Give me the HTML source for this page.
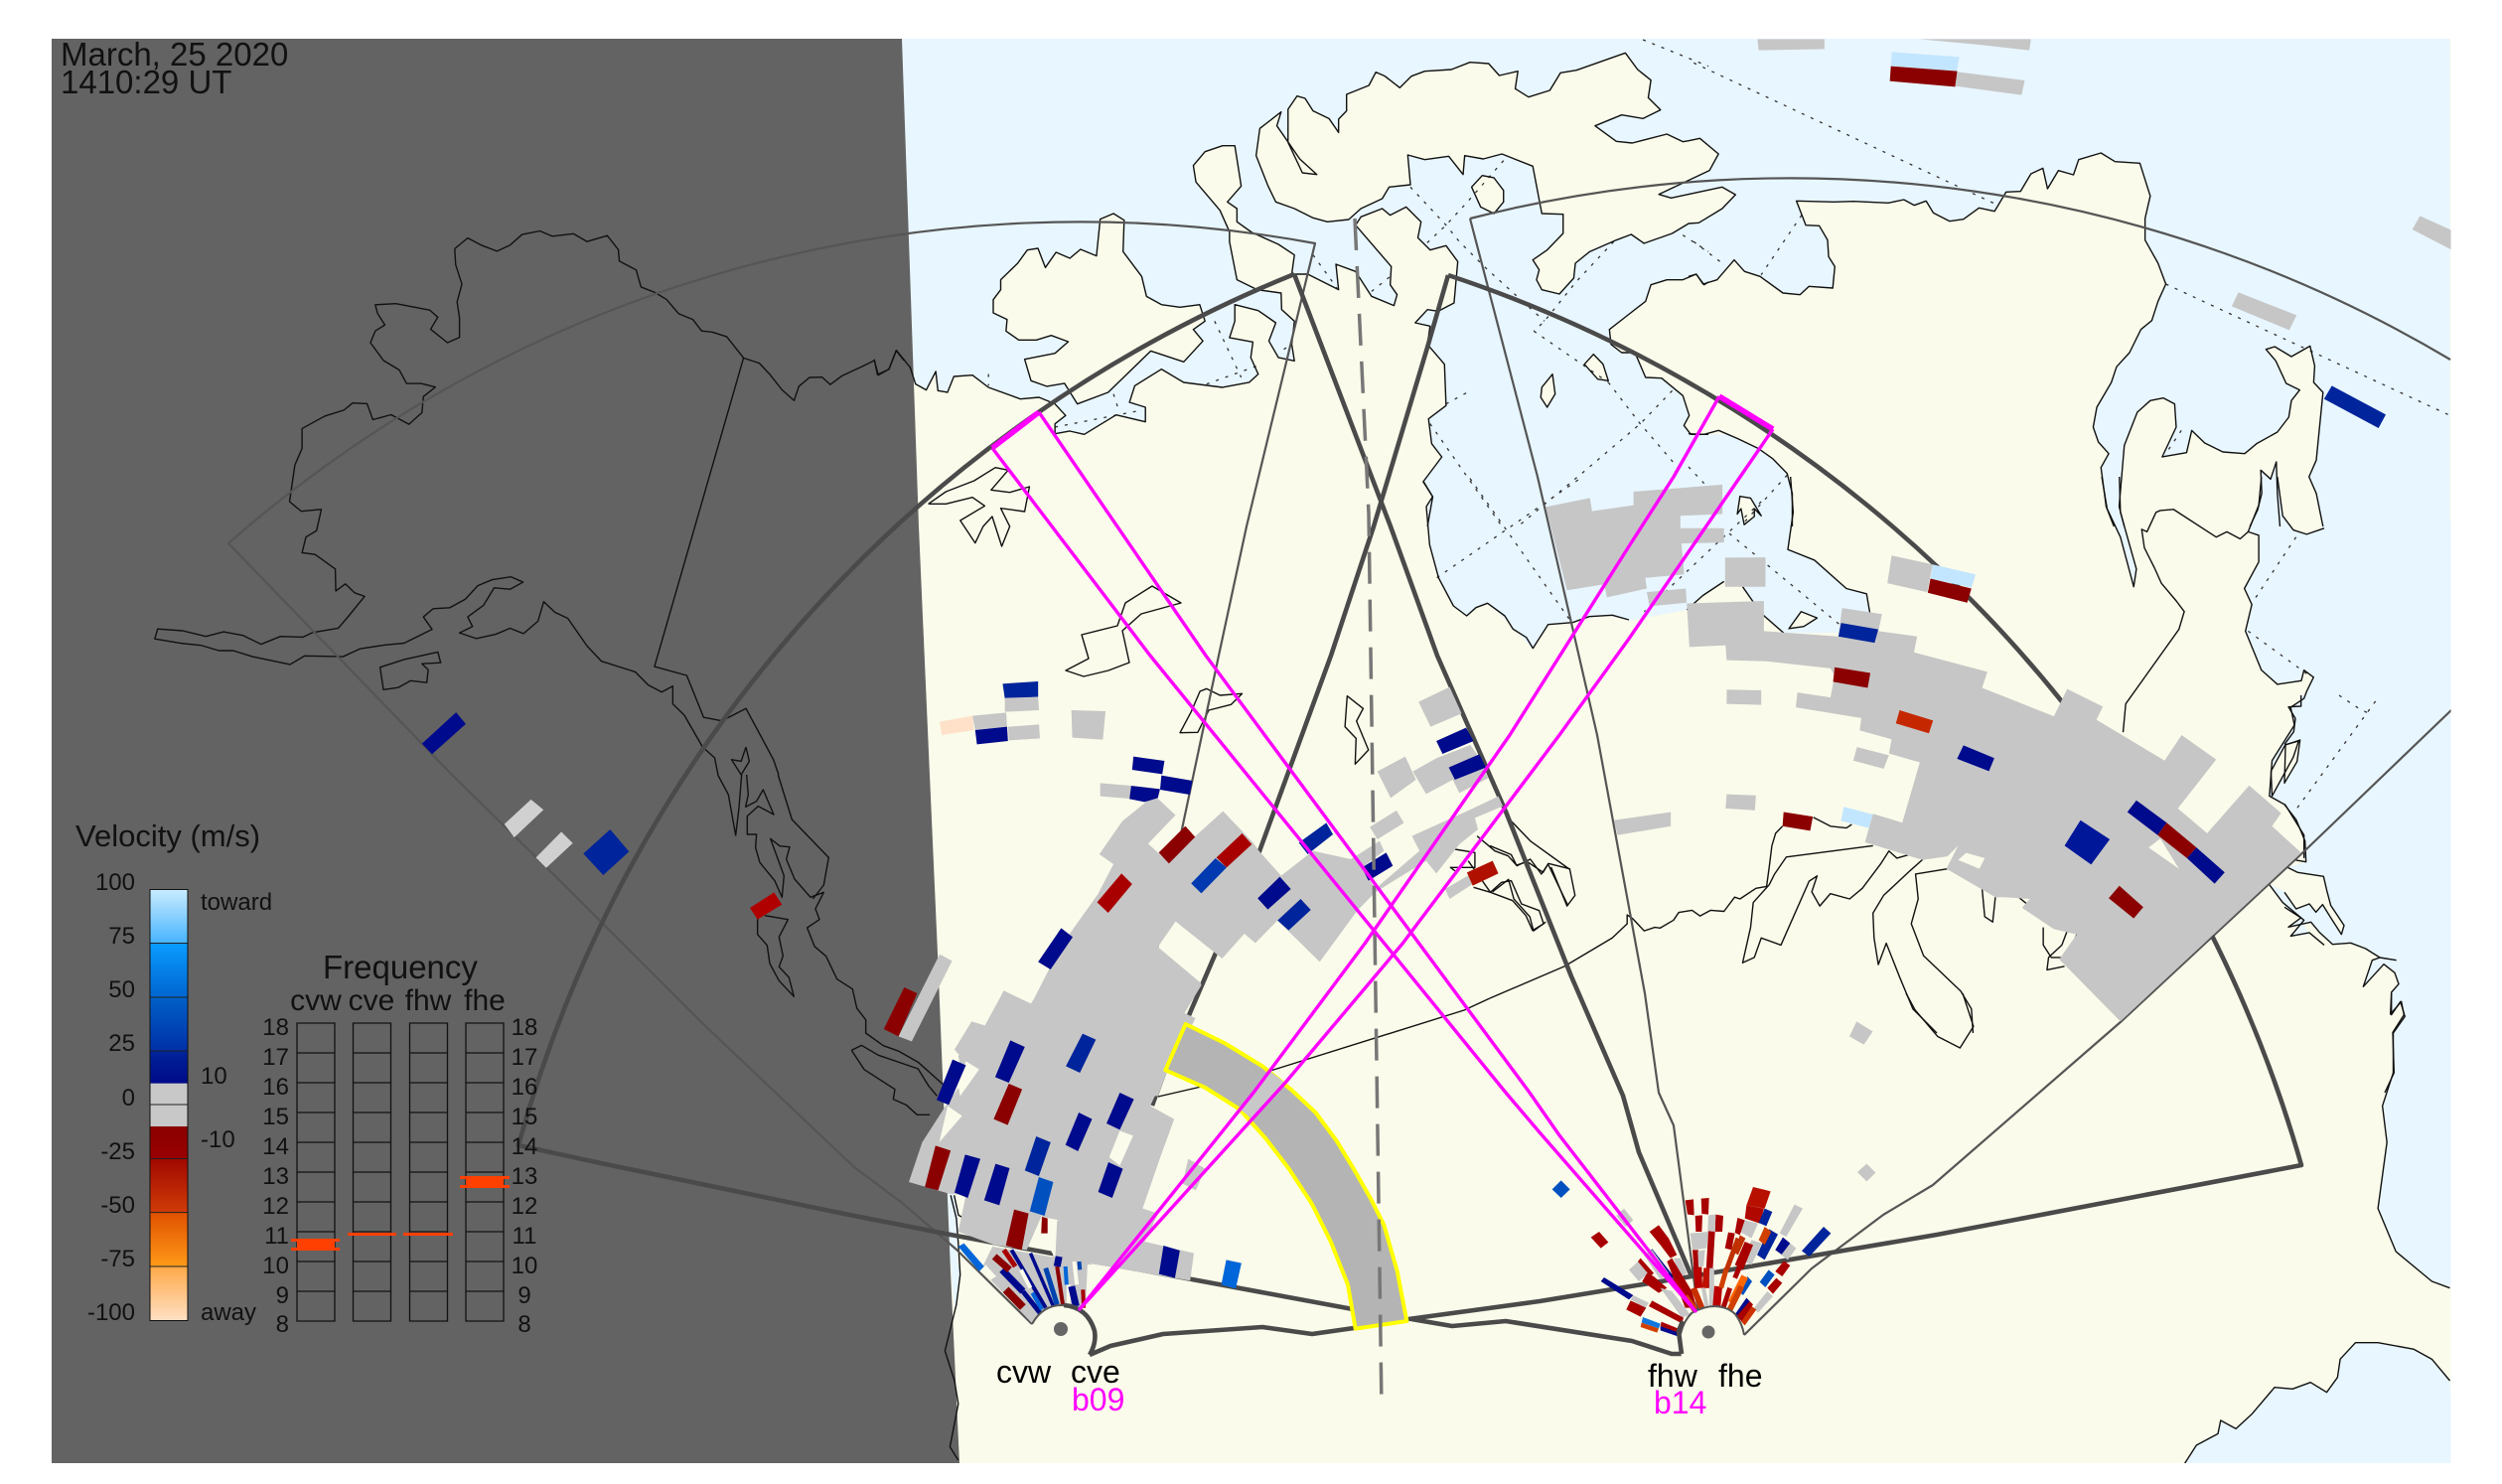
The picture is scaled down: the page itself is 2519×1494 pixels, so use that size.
<!DOCTYPE html>
<html><head><meta charset="utf-8"><style>
html,body{margin:0;padding:0;background:#fff}
svg{display:block}
polyline,polygon,path,line,rect{vector-effect:non-scaling-stroke}
text{font-family:"Liberation Sans",sans-serif;fill:#111}
.o{fill:#e8f6ff;stroke:none}.l{fill:#fafbea;stroke:none}
.c polyline,.c polygon{fill:none;stroke:#111;stroke-width:1.4;stroke-linejoin:round}
.d line,.d polyline{fill:none;stroke:#333;stroke-width:1.3;stroke-dasharray:3 7}
.t{fill:none;stroke:#555;stroke-width:2.2;stroke-linejoin:round}
.k{fill:none;stroke:#4a4a4a;stroke-width:4.6;stroke-linejoin:round}
.m{fill:none;stroke:#f0f;stroke-width:3.4;stroke-linejoin:round}
.G{fill:#c6c6c6}.N{fill:#000a8c}.B{fill:#00249b}.R{fill:#8b0000}.A{fill:#a80000}.U{fill:#0050c0}.S{fill:#c2e6ff}.C{fill:#0066d9}.H{fill:#c52800}.W{fill:#fafbea}.P{fill:#ffe0c8}.F{fill:#ff6600}
.f line{fill:none}
</style></head><body>
<svg xmlns="http://www.w3.org/2000/svg" width="2519" height="1494" viewBox="0 0 2519 1494">
<defs>
<clipPath id="fr"><rect x="52" y="39" width="2415.500" height="1434"/></clipPath>
<linearGradient id="g1" x1="0" y1="0" x2="0" y2="1"><stop offset="0" stop-color="#c8ecff"/><stop offset="1" stop-color="#48b4ff"/></linearGradient>
<linearGradient id="g2" x1="0" y1="0" x2="0" y2="1"><stop offset="0" stop-color="#0a9cff"/><stop offset="1" stop-color="#0066d0"/></linearGradient>
<linearGradient id="g3" x1="0" y1="0" x2="0" y2="1"><stop offset="0" stop-color="#0060c8"/><stop offset="1" stop-color="#0030a8"/></linearGradient>
<linearGradient id="g4" x1="0" y1="0" x2="0" y2="1"><stop offset="0" stop-color="#00249b"/><stop offset="1" stop-color="#000a88"/></linearGradient>
<linearGradient id="g5" x1="0" y1="0" x2="0" y2="1"><stop offset="0" stop-color="#8b0000"/><stop offset="1" stop-color="#990000"/></linearGradient>
<linearGradient id="g6" x1="0" y1="0" x2="0" y2="1"><stop offset="0" stop-color="#a00800"/><stop offset="1" stop-color="#d03c08"/></linearGradient>
<linearGradient id="g7" x1="0" y1="0" x2="0" y2="1"><stop offset="0" stop-color="#e05000"/><stop offset="1" stop-color="#ff9a18"/></linearGradient>
<linearGradient id="g8" x1="0" y1="0" x2="0" y2="1"><stop offset="0" stop-color="#ffa848"/><stop offset="1" stop-color="#ffe0c4"/></linearGradient>
</defs>
<rect width="2519" height="1494" fill="#fff"/>
<g clip-path="url(#fr)">
<rect x="52" y="39" width="2416" height="1434" fill="#fafbea"/>

<!-- OCEAN FILLS -->
<g transform="translate(880 30) scale(.53571 .33333)">
<polygon class="o" points="0,0 1568,0 1568,1500 1040,1500 1050,1410 1032,1365 1067,1290 1048,1250 1042,1175 1075,1135 1072,1010 1040,950 1045,895 1017,885 1040,845 1060,850 1090,825 1097,700 1075,652 1045,665 1022,628 1028,580 1000,535 970,560 955,540 915,565 905,590 972,715 970,770 983,800 977,833 935,805 905,730 868,708 873,785 815,738 785,738 790,680 760,648 710,612 682,580 682,540 664,520 690,472 678,350 655,350 622,368 600,410 605,460 650,545 668,610 668,640 682,755 720,785 765,795 766,845 790,880 785,950 790,1000 760,990 742,940 755,885 722,848 678,830 678,880 668,930 712,943 708,990 722,1040 705,1065 655,1080 582,1065 540,1025 490,1075 480,1125 510,1140 510,1184 455,1163 395,1222 368,1212 340,1220 340,1190 360,1165 340,1130 310,1110 275,1115 215,1080 185,1043 150,1047 138,1095 120,1090 116,1032 98,1088 78,1070 68,1020 42,968 28,1025 8,1043 0,995"/>
</g>
<g transform="translate(1700 30) scale(.52232 .33333)"><rect class="o" x="0" y="0" width="1468" height="1500"/></g>
<g transform="translate(1380 480) scale(.33333)">
<polygon class="o" points="160,0 160,15 187,60 168,90 178,205 205,305 250,390 290,420 318,395 353,382 405,420 430,460 470,485 490,518 536,446 610,440 660,422 730,418 780,432 780,0"/>
</g>
<g transform="translate(1500 480) scale(.53571 .35714)">
<polygon class="o" points="0,0 565,0 570,100 560,205 610,235 670,315 708,330 716,400 655,440 552,440 510,385 475,310 440,295 400,335 370,375 265,405 220,390 150,410 108,413 80,485 35,410 0,360"/>
</g>
<polygon class="o" points="2338,525 2468,525 2468,705 2338,705"/>
<g transform="translate(2300 700) scale(.33333)">
<polygon class="o" points="50,0 505,0 505,1200 303,1200 331,1140 327,1018 361,965 353,925 320,963 323,897 345,872 333,838 300,812 238,880 265,800 288,792 245,765 200,748 145,752 105,715 80,685 12,700 50,672 0,640 0,595 35,645 75,630 95,655 115,632 140,672 172,722 180,695 140,635 128,590 118,547 40,535 10,520 65,503 62,440 35,375 0,330 0,148 28,110 33,70 12,35 50,33"/>
</g>
<g transform="translate(1100 1000) scale(.90497 .33333)">
<polygon class="o" points="1215,1425 1228,1365 1252,1330 1255,1290 1272,1315 1290,1270 1315,1190 1335,1195 1355,1175 1373,1205 1385,1160 1388,1105 1405,1055 1430,1055 1470,1075 1490,1105 1510,1170 1515,1425"/>
<polygon class="o" points="1445,0 1445,65 1455,25 1460,70 1447,120 1447,240 1435,340 1440,450 1430,650 1450,780 1490,870 1515,890 1515,0"/>
</g>

<!-- LAND ON OCEAN -->
<g transform="translate(880 30) scale(.53571 .33333)">
<polygon class="l" points="1460,770 1490,755 1520,755 1545,738 1560,770 1600,762 1600,1222 1535,1222 1522,1195 1532,1165 1520,1105 1480,1052 1450,1050 1430,975 1405,975 1385,950 1382,905 1410,870 1450,820"/>
<polygon class="l" points="283,995 295,1060 325,1077 358,1068 382,1130 440,1095 520,970 582,1003 618,940 600,905 622,880 612,830 575,838 540,830 512,805 503,745 468,670 470,575 450,555 425,572 418,683 388,663 368,690 342,672 322,718 308,660 288,665 270,705 238,755 238,785 224,815 224,855 250,875 248,910 272,937 305,937 333,923 365,942 340,977"/>
<polygon class="l" points="765,248 725,298 718,380 740,470 755,520 790,540 825,568 852,580 892,573 915,540 955,510 968,475 1008,468 1003,378 1035,392 1080,382 1107,437 1110,380 1145,390 1180,375 1238,412 1255,555 1295,557 1295,615 1265,665 1238,695 1250,725 1245,755 1255,785 1288,798 1315,750 1318,705 1345,670 1395,635 1423,618 1447,645 1500,615 1531,585 1550,583 1594,540 1619,498 1594,475 1498,508 1475,497 1570,425 1587,375 1552,328 1531,335 1520,338 1490,315 1425,342 1395,337 1355,290 1405,257 1445,268 1478,242 1455,205 1460,152 1435,120 1412,70 1320,122 1290,130 1270,183 1230,203 1205,178 1210,125 1175,138 1155,102 1120,98 1085,120 1035,125 1010,140 988,175 960,140 943,128 930,168 888,195 888,245 873,270 873,310 855,268 825,245 810,207 795,200 778,240 778,340 805,432 832,437 800,390 770,320 757,290"/>
<polygon class="l" points="1123,475 1143,440 1165,447 1183,485 1183,520 1165,555 1140,535"/>
<polygon class="l" points="1352,980 1335,1010 1360,1055 1380,1060 1370,1010"/>
<polygon class="l" points="1275,1040 1255,1080 1253,1110 1265,1140 1280,1100"/>
</g>
<g transform="translate(1700 30) scale(.52232 .33333)">
<polygon class="l" points="0,745 15,738 28,768 55,755 88,695 108,730 138,745 182,795 215,800 232,775 278,780 282,715 270,685 268,635 252,592 226,590 208,517 280,520 318,518 385,523 415,513 435,530 458,517 472,553 503,578 530,572 560,538 590,548 612,490 640,488 660,435 683,418 692,480 713,425 742,438 752,392 795,372 822,398 870,403 890,502 880,570 880,635 905,705 920,768 905,820 893,878 872,905 850,975 825,1018 815,1065 787,1140 780,1200 790,1245 810,1280 795,1322 805,1440 820,1500 200,1500 200,1400 190,1340 162,1295 135,1265 95,1235 58,1210 30,1222 0,1220"/>
<polygon class="l" points="1113,965 1130,957 1162,987 1198,955 1207,1015 1205,1065 1223,1095 1210,1300 1196,1350 1210,1400 1223,1500 1140,1500 1135,1400 1133,1305 1122,1357 1103,1330 1105,1400 1097,1450 1082,1500 840,1500 830,1440 840,1255 865,1155 890,1120 915,1112 937,1130 940,1200 913,1290 960,1277 970,1210 995,1248 1030,1275 1072,1280 1095,1250 1135,1215 1157,1170 1162,1120 1178,1088 1152,1068 1132,1000"/>
</g>
<g transform="translate(1500 480) scale(.53571 .35714)">
<polygon class="o" points="1150,0 1160,90 1185,170 1210,310 1215,260 1200,180 1185,100 1183,0"/>
<polygon class="o" points="1450,0 1480,0 1490,110 1510,150 1535,162 1568,145 1575,1085 1530,1075 1530,1010 1495,925 1465,900 1470,800 1512,700 1505,650 1530,625 1535,605 1548,565 1530,545 1525,575 1480,585 1450,545 1420,435 1432,360 1418,315 1445,240 1445,165 1425,155 1445,80"/>
<polygon class="o" points="1465,1150 1495,1170 1540,1290 1505,1295 1530,1250 1490,1200"/>
<polygon class="l" points="1468,830 1495,755 1520,745 1510,790 1470,900"/>
<polygon class="l" points="562,428 585,380 615,398 590,422"/>
<polygon class="l" points="470,55 490,60 510,110 497,90 497,112 478,135 472,90 465,105"/>
</g>
<g transform="translate(2300 700) scale(.33333)">
<polygon class="l" points="3,150 47,135 38,200 0,265"/>
</g>

<!-- West strip -->
<g transform="translate(850 950) scale(.38265 .33333)">
<polygon class="o" points="272,750 292,760 300,830 300,900 295,930 305,1000 297,1070 290,1100 278,950"/>
<polygon class="o" points="275,460 340,430 310,525 272,490"/>
</g>

<!-- NIGHT -->
<polygon fill="#636363" points="52,39 908,39 925,530 936,780 944,960 957,1280 966,1473 52,1473"/>

<!-- DOTTED GRID -->
<g class="d">
<g transform="translate(880 30) scale(.53571 .33333)">
<line x1="215" y1="1040" x2="215" y2="1075"/><line x1="640" y1="880" x2="690" y2="1050"/><line x1="625" y1="1070" x2="720" y2="1015"/><line x1="450" y1="1100" x2="460" y2="1150"/><line x1="340" y1="1200" x2="500" y2="1150"/><line x1="825" y1="680" x2="870" y2="780"/><line x1="935" y1="790" x2="970" y2="745"/><line x1="770" y1="965" x2="785" y2="950"/>
<polyline points="1008,475 1075,590 1100,640 1150,720 1260,880"/><polyline points="1183,395 1115,520 1075,590 1035,650"/><polyline points="1390,640 1320,760 1260,880 1240,910"/><line x1="1520" y1="620" x2="1568" y2="670"/>
<polyline points="1500,1090 1440,1190 1330,1340 1210,1500"/><polyline points="1380,1065 1440,1190 1520,1340"/><line x1="1045" y1="1190" x2="1180" y2="1500"/><line x1="1075" y1="1130" x2="1115" y2="1095"/><line x1="1240" y1="910" x2="1380" y2="1065"/><line x1="1445" y1="30" x2="1568" y2="110"/>
</g>
<g transform="translate(1700 30) scale(.52232 .33333)">
<line x1="10" y1="100" x2="590" y2="525"/><line x1="920" y1="768" x2="1468" y2="1165"/><line x1="218" y1="560" x2="140" y2="740"/><line x1="10" y1="640" x2="65" y2="705"/><line x1="950" y1="1210" x2="920" y2="1280"/><line x1="190" y1="1345" x2="100" y2="1500"/><line x1="0" y1="1320" x2="30" y2="1370"/>
</g>
<g transform="translate(1380 480) scale(.33333)">
<line x1="300" y1="5" x2="600" y2="430"/><line x1="200" y1="305" x2="640" y2="0"/>
</g>
<g transform="translate(1500 480) scale(.53571 .35714)">
<line x1="1515" y1="170" x2="1435" y2="350"/><line x1="1425" y1="435" x2="1535" y2="555"/><line x1="450" y1="160" x2="660" y2="420"/><line x1="510" y1="70" x2="290" y2="380"/>
</g>
<g transform="translate(2300 700) scale(.33333)">
<line x1="275" y1="18" x2="35" y2="345"/><polyline points="165,0 225,40 255,55"/>
</g>
</g>

<!-- COASTLINES -->
<g class="c">
<polyline points="1166,1104 1279,1078 1474,1017 1500,1005"/>
<polygon points="1073,675 1096,663 1089,639 1125,630 1133,607 1160,590 1189,607 1149,618 1130,635 1137,667 1116,675 1091,681"/>
<g transform="translate(880 30) scale(.53571 .33333)">
<polyline points="1040,1500 1050,1410 1032,1365 1067,1290 1048,1250 1042,1175 1075,1135 1072,1010 1040,950 1045,895 1017,885 1040,845 1060,850 1090,825 1097,700 1075,652 1045,665 1022,628 1028,580 1000,535 970,560 955,540 915,565 905,590 972,715 970,770 983,800 977,833 935,805 905,730 868,708 873,785 815,738 785,738 790,680 760,648 710,612 682,580 682,540 664,520 690,472 678,350 655,350 622,368 600,410 605,460 650,545 668,610 668,640 682,755 720,785 765,795 766,845 790,880 785,950 790,1000 760,990 742,940 755,885 722,848 678,830 678,880 668,930 712,943 708,990 722,1040 705,1065 655,1080 582,1065 540,1025 490,1075 480,1125 510,1140 510,1184 455,1163 395,1222 368,1212 340,1220 340,1190 360,1165 340,1130 310,1110 275,1115 215,1080 185,1043 150,1047 138,1095 120,1090 116,1032 98,1088 78,1070 68,1020 42,968 28,1025 8,1043 0,995"/>
<polyline points="1568,762 1560,770 1545,738 1520,755 1490,755 1460,770 1450,820 1410,870 1382,905 1385,950 1405,975 1430,975 1450,1050 1480,1052 1520,1105 1532,1165 1522,1195 1535,1222 1568,1222"/>
<polygon points="283,995 295,1060 325,1077 358,1068 382,1130 440,1095 520,970 582,1003 618,940 600,905 622,880 612,830 575,838 540,830 512,805 503,745 468,670 470,575 450,555 425,572 418,683 388,663 368,690 342,672 322,718 308,660 288,665 270,705 238,755 238,785 224,815 224,855 250,875 248,910 272,937 305,937 333,923 365,942 340,977"/>
<polygon points="765,248 725,298 718,380 740,470 755,520 790,540 825,568 852,580 892,573 915,540 955,510 968,475 1008,468 1003,378 1035,392 1080,382 1107,437 1110,380 1145,390 1180,375 1238,412 1255,555 1295,557 1295,615 1265,665 1238,695 1250,725 1245,755 1255,785 1288,798 1315,750 1318,705 1345,670 1395,635 1423,618 1447,645 1500,615 1531,585 1550,583 1594,540 1619,498 1594,475 1498,508 1475,497 1570,425 1587,375 1552,328 1531,335 1520,338 1490,315 1425,342 1395,337 1355,290 1405,257 1445,268 1478,242 1455,205 1460,152 1435,120 1412,70 1320,122 1290,130 1270,183 1230,203 1205,178 1210,125 1175,138 1155,102 1120,98 1085,120 1035,125 1010,140 988,175 960,140 943,128 930,168 888,195 888,245 873,270 873,310 855,268 825,245 810,207 795,200 778,240 778,340 805,432 832,437 800,390 770,320 757,290"/>
<polygon points="1123,475 1143,440 1165,447 1183,485 1183,520 1165,555 1140,535"/>
<polygon points="1352,980 1335,1010 1360,1055 1380,1060 1370,1010"/>
<polygon points="1275,1040 1255,1080 1253,1110 1265,1140 1280,1100"/>
<polyline points="102,1432 135,1395 188,1362 228,1322 252,1330 220,1390 255,1397 292,1380 283,1455 238,1445 255,1500 240,1560 222,1470 205,1500 190,1550 162,1482 208,1438 185,1412 135,1432 102,1432"/>
</g>
<g transform="translate(1700 30) scale(.52232 .33333)">
<polyline points="0,745 15,738 28,768 55,755 88,695 108,730 138,745 182,795 215,800 232,775 278,780 282,715 270,685 268,635 252,592 226,590 208,517 280,520 318,518 385,523 415,513 435,530 458,517 472,553 503,578 530,572 560,538 590,548 612,490 640,488 660,435 683,418 692,480 713,425 742,438 752,392 795,372 822,398 870,403 890,502 880,570 880,635 905,705 920,768 905,820 893,878 872,905 850,975 825,1018 815,1065 787,1140 780,1200 790,1245 810,1280 795,1322 805,1440 820,1500"/>
<polyline points="0,1220 30,1222 58,1210 95,1235 135,1265 162,1295 190,1340 200,1400 200,1500"/>
<polyline points="1223,1500 1210,1400 1196,1350 1210,1300 1223,1095 1205,1065 1207,1015 1198,955 1162,987 1130,957 1113,965 1132,1000 1152,1068 1178,1088 1162,1120 1157,1170 1135,1215 1095,1250 1072,1280 1030,1275 995,1248 970,1210 960,1277 913,1290 940,1200 937,1130 915,1112 890,1120 865,1155 840,1255 830,1440 840,1500"/>
<polyline points="1140,1500 1135,1400 1133,1305 1122,1357 1103,1330 1105,1400 1097,1450 1082,1500"/>
</g>
<g transform="translate(1380 480) scale(.33333)">
<polyline points="160,15 187,60 168,90 178,205 205,305 250,390 290,420 318,395 353,382 405,420 430,460 470,485 490,518 536,446 610,440 660,422 730,418 780,432"/>
</g>
<g transform="translate(1500 480) scale(.53571 .35714)">
<polyline points="565,0 570,100 560,205 610,235 670,315 708,330 716,400"/>
<polyline points="440,295 400,335 370,375"/><polyline points="475,310 510,385 552,440"/>
<polygon points="562,428 585,380 615,398 590,422"/>
<polygon points="470,55 490,60 510,110 497,90 497,112 478,135 472,90 465,105"/>
<polyline points="1150,0 1160,90 1185,170 1210,310 1215,260 1200,180 1185,100 1183,0"/>
<polyline points="1450,0 1445,80 1425,155 1410,175 1385,155 1365,170 1285,92 1260,95 1252,100 1235,155 1225,148 1230,200 1250,260 1262,300 1290,350 1305,380 1295,430 1195,640 1190,720"/>
<polyline points="1480,0 1490,110 1510,150 1535,162 1568,145"/>
<polyline points="1425,155 1445,165 1445,240 1418,315 1432,360 1420,435 1450,545 1480,585 1525,575 1530,545 1548,565 1535,605 1530,625 1505,650 1512,700 1470,800 1465,900 1495,925 1530,1010 1530,1075"/>
<polygon points="1468,830 1495,755 1520,745 1510,790 1470,900"/>
<polyline points="0,1470 140,1380 230,1300 258,1260 258,1235 268,1245 290,1280 310,1270 320,1272 345,1250 355,1228 380,1222 395,1238 415,1222 440,1225 460,1185 470,1190 500,1160 520,1155 525,1100 530,1040 537,1005 550,985"/>
<polyline points="608,960 640,985 670,990 680,980"/>
<polyline points="720,1040 557,1072 535,1120 525,1150 495,1200 490,1270 475,1370 497,1355 510,1300 547,1320 600,1140 615,1125 605,1170 620,1210 640,1175 676,1190 700,1160 735,1090 750,1055 765,1075 800,1060 820,1070 790,1110 740,1180 720,1230 722,1300 730,1375 745,1315 770,1410 795,1500 840,1568"/>
<polyline points="860,1105 800,1120 805,1190 792,1260 815,1350 885,1450 905,1500 908,1568"/>
<polyline points="925,1160 930,1240 945,1255 950,1185"/>
<polyline points="965,1150 1010,1205"/>
<polyline points="1040,1270 1040,1320 1055,1355 1085,1355 1103,1290"/>
<polyline points="1085,1280 1075,1320 1050,1355 1047,1390 1080,1380"/>
<polyline points="1465,1150 1490,1200 1530,1250 1505,1295 1540,1285 1568,1320"/>
<polyline points="0,1040 40,1065 50,1095 70,1085 100,1115 110,1090 150,1105 160,1180 145,1210 115,1100"/>
<polyline points="5,1170 35,1135 45,1190 75,1240 82,1280 105,1255"/>
</g>
<g transform="translate(2300 700) scale(.33333)">
<polyline points="50,0 50,33 12,35 33,70 28,110 0,148"/>
<polygon points="3,150 47,135 38,200 0,265"/>
<polyline points="0,330 35,375 62,440 65,503 30,497"/>
<polyline points="10,520 40,535 118,547 128,590 140,635 180,695 172,722 140,672 115,632 95,655 75,630 35,645 0,595"/>
<polyline points="0,640 50,672 12,700 80,685 105,715 145,752 200,748 245,765 288,792 338,800"/>
<polyline points="288,792 265,800 238,880 300,812 333,838 345,872 323,897 320,963 353,925 361,965 327,1018 331,1140 303,1200"/>
</g>
<g transform="translate(1100 1000) scale(.90497 .33333)">
<polyline points="905,0 915,50 940,130 965,165 980,100 968,0"/>
<polyline points="1445,0 1445,65 1455,25 1460,70 1447,120 1447,240 1435,340 1440,450 1430,650 1450,780 1490,870 1510,890"/>
<polyline points="1215,1420 1228,1365 1252,1330 1255,1290 1272,1315 1290,1270 1315,1190 1335,1195 1355,1175 1373,1205 1385,1160 1388,1105 1405,1055 1430,1055 1470,1075 1490,1105 1510,1170"/>
</g>
<g transform="translate(880 660) scale(.44643 .33333)">
<polygon points="690,233 730,232 755,165 805,148 830,115 780,120 750,100 735,108 715,170"/>
<polygon points="1067,122 1103,160 1088,198 1115,285 1085,328 1087,250 1062,215"/>
<polyline points="1360,545 1400,590 1430,605 1450,635 1480,615 1505,660 1520,630 1565,755"/>
<polyline points="1430,490 1480,560 1568,645"/>
<polyline points="1310,585 1355,595 1355,640 1300,640 1310,650"/>
<polyline points="1340,620 1390,715"/>
<polyline points="1352,700 1390,715 1440,740 1470,785 1485,830 1510,810 1500,770 1460,750 1437,680 1415,685 1390,715"/>
</g>
<g transform="translate(150 220) scale(.48469 .35714)">
<polyline points="635,85 662,55 690,75 723,92 750,75 775,45 812,35 838,50 882,43 910,65 952,48 975,88 977,120 1012,145 1022,193 1050,208 1075,228 1100,268 1130,285 1148,317 1170,320 1200,333 1235,393 1268,408 1290,440 1315,483 1340,513 1350,473 1372,448 1398,447 1415,468 1440,443 1480,418 1507,400 1513,440 1537,425 1552,372 1568,400"/>
<polyline points="635,85 637,130 650,185 640,235 645,280 645,335 620,350 585,312 600,278 583,258 513,240 470,243 475,268 490,300 470,317 460,350 487,400 520,427 535,465 565,465 595,475 570,502 567,547 540,580 503,553 465,567 453,522 423,520 405,540 365,557 318,592 318,648 303,695 292,798 316,825 358,820 348,880 326,898 318,942 345,947 387,988 388,1050 408,1030 427,1055 448,1065 415,1120 393,1155 340,1167 320,1180 273,1178 233,1200 195,1175 155,1165 118,1178 70,1162 18,1157 12,1185 65,1197 108,1203 145,1218 175,1218 215,1235 293,1257 323,1233 403,1235 438,1213 490,1202 530,1197 588,1158 570,1123 590,1100 625,1097 657,1073 683,1035 713,1018 752,1010 777,1025 750,1045 717,1041 695,1090 662,1123 672,1150 645,1168 680,1184 720,1172 750,1155 778,1170 808,1135 820,1080 843,1110 870,1127 910,1205 940,1248 1010,1278 1037,1315 1065,1335 1088,1318 1088,1368 1112,1400 1150,1490 1175,1520 1182,1568"/>
<polygon points="480,1265 530,1243 600,1222 606,1252 567,1255 580,1272 577,1308 543,1303 518,1322 487,1328"/>
<polyline points="1235,393 1050,1263 1117,1288 1152,1406 1190,1416 1240,1381 1297,1525 1308,1568"/>
<polyline points="1240,1490 1247,1530 1230,1568 1210,1525 1230,1530 1240,1490"/>
</g>
<g transform="translate(540 780) scale(.33333)">
<polyline points="548,0 580,60 602,183 612,100 620,0"/>
<polyline points="635,0 640,60 632,97 665,80 685,45 717,120 670,95 637,125 637,180 665,180 662,220 675,265 720,320 742,370 748,305 707,193 735,215 765,218 755,255 780,315 828,370 868,355 843,405 855,437 818,462 840,518 875,548 908,617 955,647 968,705 995,740 995,780 1048,818 1095,835 1153,868 1228,935"/>
<polyline points="730,0 772,135 883,250 868,333 835,375"/>
<polyline points="690,425 760,437 733,490 745,547 733,580 763,612 778,670 733,622 705,570 697,515 668,482 668,435"/>
<polyline points="952,832 982,817 1033,847 1153,888 1185,940 1210,970"/>
<polyline points="952,832 990,890 1083,950 1078,980 1117,997 1150,1027 1188,1027"/>
<polyline points="1280,970 1320,940"/><polyline points="1250,1005 1285,1035"/><polyline points="1225,1078 1265,1095"/><polyline points="1222,1095 1260,1112"/><polyline points="1220,1105 1258,1118"/>
<polyline points="1262,1270 1275,1330 1290,1338"/>
</g>
<g transform="translate(850 950) scale(.38265 .33333)">
<polyline points="280,760 295,830 300,905 305,1000 295,1090 265,1230 290,1320 300,1390 278,1520 300,1560"/>
<polyline points="300,460 340,430"/>
</g>
</g>

<!-- THIN FOV -->
<path class="t" d="M230 547 A1299 1299 0 0 1 1324 245 L1255 530 L1227 660 L1191 830 L1120 1170 L1082 1318"/>
<polyline class="t" points="230,547 455,780 550,873 707,1030 860,1175 907,1210 963,1258 1039,1333"/>
<path class="t" d="M1480 220 A1300 1300 0 0 1 2467 362"/>
<polyline class="t" points="1480,220 1548,480 1582,627 1608,740 1656,1000 1670,1100 1685,1133 1705,1285 1712,1340"/>
<polyline class="t" points="2470,713 2322,855 2136,1028 1946,1193 1896,1223 1824,1277 1756,1344"/>

<!-- THICK FOV -->
<path class="k" d="M1303 276 A1326 1326 0 0 0 522 1153 L600 1170 L850 1222 L957 1243 L1362 1318"/>
<polyline class="k" points="1303,276 1400,530 1447,660 1516,817 1582,983 1634,1103 1650,1160 1703,1285"/>
<polyline class="k" points="1458,277 1437,350 1383,530 1340,660 1268,857 1173,1078 1160,1113"/>
<path class="k" d="M1458 277 A1327 1327 0 0 1 2317 1173 L1950 1243 L1703 1285 L1550 1310 L1418 1328"/>
<polyline class="k" points="1097,1364 1118,1355 1171,1343 1271,1336 1321,1343 1363,1337"/>
<polyline class="k" points="1421,1328 1462,1335 1516,1330 1643,1350 1683,1363 1693,1363"/>

<!-- GATES z7 -->
<g transform="translate(880 660) scale(.44643 .33333)">
<polygon class="G" points="632,422 680,482 618,568 665,625 725,545 787,470 855,565 868,590 918,665 990,590 1075,615 1140,560 1150,590 1100,640 1130,705 1230,590 1213,545 1345,465 1408,425 1418,455 1355,490 1362,525 1320,570 1268,658 1245,620 1130,715 1090,770 1005,925 910,800 860,868 835,840 785,915 680,803 640,880 738,990 700,1080 725,1095 660,1260 640,1330 210,1330 190,1210 220,1105 250,1130 292,1012 355,1052 420,880 505,720 540,630 508,600 560,500"/>
<polygon class="G" points="148,902 176,922 85,1165 55,1150"/>
<polygon class="R" points="22,1128 68,1002 97,1020 55,1150"/>
<polygon class="B" points="290,85 370,78 370,125 295,130"/><polygon class="G" points="295,128 370,125 372,165 295,170"/>
<polygon class="P" points="148,200 222,182 225,225 153,240"/><polygon class="G" points="222,182 298,172 300,215 228,225"/>
<polygon class="N" points="228,225 300,215 302,258 232,268"/><polygon class="G" points="302,215 372,208 374,250 304,256"/>
<polygon class="G" points="445,165 522,168 516,254 447,248"/>
<polygon class="N" points="585,305 655,318 650,358 582,345"/><polygon class="N" points="648,362 718,378 712,420 645,405"/><polygon class="N" points="578,393 645,403 640,430 610,442 576,433"/><polygon class="G" points="510,385 580,393 576,432 510,425"/>
<polygon class="G" points="1228,140 1298,95 1325,175 1255,215"/><polygon class="G" points="1135,350 1198,305 1222,375 1165,430"/><polygon class="G" points="1215,350 1268,310 1345,270 1360,300 1385,370 1320,415 1305,375 1245,418"/>
<polygon class="N" points="1268,258 1335,218 1352,258 1282,297"/><polygon class="N" points="1296,338 1365,298 1380,338 1310,375"/>
<polygon class="G" points="1118,518 1178,468 1195,505 1135,555"/><polygon class="G" points="1288,705 1345,660 1350,690 1298,735"/>
<polygon fill="#b01000" points="1337,655 1395,620 1408,658 1350,695"/>
<polygon class="B" points="958,565 1020,505 1035,540 978,600"/><polygon class="N" points="1100,640 1155,595 1170,635 1115,680"/><polygon class="N" points="865,733 915,668 940,705 888,767"/><polygon class="B" points="910,800 962,735 985,768 935,830"/>
<polygon class="R" points="642,595 702,515 724,548 665,628"/><polygon class="A" points="772,610 830,537 852,570 795,640"/><polygon fill="#0039b0" points="715,688 770,612 795,640 738,718"/><polygon class="A" points="503,745 558,658 582,690 528,777"/><polygon class="N" points="370,925 422,823 448,850 398,948"/>
</g>

<!-- GATES z2 -->
<g transform="translate(850 950) scale(.38265 .33333)">
<polygon class="G" points="420,142 490,183 545,85 590,0 820,20 940,125 895,210 905,230 850,380 805,490 868,530 830,650 785,800 825,815 800,880 790,900 920,935 910,1018 640,965 635,1060 610,1055 615,965 550,950 545,900 520,820 480,925 395,910 300,870 320,760 275,755 170,720 205,600 275,475 335,380 290,320 335,235 370,247"/>
<polygon class="G" points="905,650 950,680 925,745 890,725"/>
<polygon class="W" points="320,355 355,380 305,460 300,430"/><polygon class="W" points="272,490 310,520 250,600"/><polygon class="W" points="725,565 760,580 725,670 697,645"/>
<polygon class="N" points="285,350 320,367 275,487 243,472"/><polygon class="N" points="437,292 475,312 433,420 397,403"/><polygon class="B" points="627,272 662,290 620,390 583,370"/>
<polygon class="R" points="433,423 468,440 430,548 393,530"/>
<polygon class="N" points="725,450 762,470 725,562 690,543"/><polygon class="N" points="617,510 652,530 615,627 582,608"/><polygon class="B" points="505,582 543,600 512,702 475,685"/><polygon class="N" points="695,660 733,680 705,768 668,750"/><polygon class="N" points="318,637 358,650 325,768 290,752"/><polygon class="N" points="398,665 435,678 408,790 368,775"/>
<polygon class="R" points="240,610 280,625 247,745 212,735"/><polygon class="R" points="447,803 485,815 467,925 425,912"/>
<polygon class="U" points="512,705 550,720 527,822 488,808"/>
<polygon class="N" points="840,912 883,927 870,1010 828,998"/><polygon class="C" points="1005,955 1045,965 1030,1042 992,1030"/>
<polygon class="W" points="520,825 565,835 555,950 540,920"/>
<polygon class="R" points="520,825 535,830 535,875 518,875"/>
<polygon class="G" points="560,835 640,860 650,970 555,955"/>
<!-- fan -->
<polygon class="G" points="495,1148 360,985 390,915 640,965 635,1100 570,1092 520,1110"/>
<polygon class="C" points="300,915 315,905 368,975 355,990"/>
<polygon class="W" points="360,985 372,970 400,1005 385,1015"/>
<g fill="none" class="f" stroke-linecap="butt">
<line x1="470" y1="1098" x2="425" y2="1045" stroke="#8b0000" stroke-width="8"/>
<line x1="470" y1="1050" x2="415" y2="985" stroke="#000a8c" stroke-width="7"/>
<line x1="515" y1="1115" x2="470" y2="1050" stroke="#000a8c" stroke-width="5"/>
<line x1="435" y1="985" x2="395" y2="945" stroke="#8b0000" stroke-width="7"/>
<line x1="530" y1="1100" x2="440" y2="925" stroke="#000a8c" stroke-width="4"/>
<line x1="450" y1="975" x2="420" y2="925" stroke="#a80000" stroke-width="5"/>
<line x1="520" y1="1105" x2="495" y2="1055" stroke="#0066d9" stroke-width="4"/>
<line x1="550" y1="1095" x2="490" y2="935" stroke="#000a8c" stroke-width="3.500"/>
<line x1="490" y1="1040" x2="465" y2="985" stroke="#fafbea" stroke-width="4"/>
<line x1="560" y1="1090" x2="530" y2="980" stroke="#0044b0" stroke-width="5"/>
<line x1="575" y1="1090" x2="560" y2="975" stroke="#8b0000" stroke-width="4"/>
<line x1="590" y1="1090" x2="590" y2="1030" stroke="#fafbea" stroke-width="4"/>
<line x1="585" y1="1030" x2="582" y2="975" stroke="#0066d9" stroke-width="4"/>
<line x1="610" y1="1095" x2="598" y2="1035" stroke="#000a8c" stroke-width="7"/>
<line x1="630" y1="1100" x2="628" y2="1045" stroke="#a80000" stroke-width="4"/>
<line x1="612" y1="1030" x2="605" y2="960" stroke="#fafbea" stroke-width="4"/>
<line x1="620" y1="985" x2="618" y2="960" stroke="#0044b0" stroke-width="4"/>
<line x1="560" y1="975" x2="565" y2="945" stroke="#000a8c" stroke-width="7"/>
</g>
</g>

<!-- GATES z6 -->
<g transform="translate(1500 480) scale(.53571 .35714)">
<polygon class="G" points="105,85 188,60 192,97 270,80 270,42 437,22 437,105 358,110 358,145 440,145 440,185 360,188 365,275 292,285 295,315 220,340 215,303 145,320"/>
<polygon class="G" points="295,325 368,315 370,355 300,365"/><polygon class="G" points="442,228 518,227 518,310 442,310"/>
<polygon class="G" points="755,222 832,247 822,325 747,300"/><polygon class="S" points="832,247 913,275 905,313 828,287"/><polygon class="R" points="828,287 905,315 897,355 823,327"/>
<polygon class="G" points="370,357 515,350 515,435 655,450 662,370 737,387 730,435 803,450 797,495 935,550 925,595 1060,675 1085,598 1152,648 1140,685 1268,800 1300,728 1365,797 1293,935 1348,1005 1427,870 1487,948 1470,985 1525,1060 1185,1535 1070,1360 1103,1290 1060,1275 1000,1215 1015,1190 965,1185 950,1185 858,1105 880,1040 860,1070 813,1080 705,1030 720,950 775,975 808,805 750,780 755,740 695,715 698,680 575,650 578,608 640,622 648,560 640,540 520,520 445,517 443,475 375,480"/>
<polygon class="W" points="1238,1045 1260,1020 1295,1105"/><polygon class="W" points="895,1060 930,1075 920,1105 880,1080"/>
<polygon class="G" points="445,600 510,602 510,643 445,640"/><polygon class="G" points="690,762 750,785 740,823 683,800"/><polygon class="G" points="445,895 500,898 498,940 443,935"/><polygon class="G" points="233,968 340,945 340,985 240,1010"/>
<polygon class="S" points="665,930 720,952 712,990 660,970"/><polygon class="R" points="552,945 607,958 602,998 550,985"/>
<polygon class="B" points="660,412 730,430 723,468 655,450"/><polygon class="R" points="648,537 715,553 710,595 645,578"/><polygon class="H" points="770,658 833,687 825,723 763,695"/><polygon class="N" points="890,757 948,793 938,830 878,795"/>
<polygon fill="#00179a" points="1110,968 1165,1022 1130,1093 1080,1040"/>
<polygon class="N" points="1215,912 1272,975 1255,1010 1198,945"/><polygon class="R" points="1272,975 1328,1045 1310,1075 1255,1010"/><polygon class="N" points="1328,1045 1381,1115 1362,1147 1310,1075"/>
<polygon class="R" points="1183,1153 1228,1213 1210,1245 1163,1188"/>
</g>
<g transform="translate(1100 1000) scale(.90497 .33333)"><polygon class="G" points="850,85 868,115 858,155 842,130"/></g>

<!-- GATES z5 -->
<g transform="translate(1700 30) scale(.52232 .33333)">
<polygon class="G" points="133,28 262,28 262,58 135,62"/><polygon class="G" points="445,28 660,28 657,62 560,45"/>
<polygon class="S" points="392,67 522,82 517,125 390,110"/><polygon class="R" points="390,110 518,125 514,172 388,155"/><polygon class="G" points="518,127 648,153 642,197 514,170"/>
<polygon class="G" points="1060,793 1172,862 1158,907 1047,835"/><polygon class="B" points="1240,1075 1344,1162 1330,1203 1225,1115"/><polygon class="G" points="1410,562 1480,612 1480,672 1395,603"/>
</g>

<!-- Night gates -->
<g transform="translate(150 220) scale(.48469 .35714)"><polygon class="N" points="567,1480 638,1392 658,1425 588,1510"/></g>
<g transform="translate(0 780) scale(.38265)"><polygon fill="#d0d0d0" points="1327,130 1397,65 1430,92 1353,165"/><polygon fill="#d0d0d0" points="1410,218 1477,150 1507,180 1437,245"/></g>
<g transform="translate(540 780) scale(.33333)"><polygon class="B" points="142,238 223,165 280,232 202,303"/><polygon fill="#b00000" points="645,402 718,355 742,392 668,437"/></g>

<!-- GATES z3 -->
<g transform="translate(1550 1100) scale(.33333)">
<polygon class="U" points="65,265 92,292 65,318 38,292"/>
<polygon class="G" points="255,350 283,385 260,405 232,372"/>
<polygon class="A" points="180,420 208,452 185,470 155,437"/>
<polygon class="G" points="988,215 1015,242 988,268 960,240"/>
<polygon class="A" points="440,325 465,322 467,370 447,368"/><polygon class="A" points="488,320 512,318 510,368 490,366"/><polygon class="A" points="470,372 492,370 490,420 472,420"/><polygon class="A" points="532,368 555,372 552,420 530,420"/><polygon class="G" points="510,370 532,368 530,420 508,420"/>
<polygon class="G" points="455,425 510,420 505,470 462,475"/><polygon class="A" points="510,418 530,420 520,590 500,590"/><polygon class="A" points="462,475 480,475 480,590 470,590"/><polygon class="A" points="465,525 490,527 492,590 470,590"/><polygon class="G" points="478,478 500,475 495,525 480,525"/>
<polygon fill="#b81000" points="645,285 698,298 680,350 625,340"/><polygon fill="#b00800" points="625,340 678,350 665,395 620,380"/><polygon class="B" points="680,350 703,360 685,403 662,393"/>
<polygon class="G" points="620,385 660,395 640,440 605,420"/><polygon class="A" points="598,378 620,385 605,430 590,423"/><polygon class="A" points="570,422 590,425 580,475 560,470"/><polygon fill="#c03000" points="605,430 622,440 600,490 590,485"/>
<polygon class="G" points="770,338 795,350 745,435 725,425"/><polygon class="N" points="735,437 757,455 733,490 712,475"/><polygon class="G" points="757,455 775,470 750,505 730,490"/>
<polygon class="B" points="858,405 880,425 815,495 792,478"/>
<polygon class="B" points="693,412 720,428 680,505 657,490"/><polygon fill="#d04000" points="680,405 700,420 680,460 662,445"/>
<polygon class="G" points="640,445 672,455 640,520 615,510"/>
<polygon class="A" points="620,450 645,460 615,535 590,520"/>
<polygon class="A" points="738,508 757,522 733,555 712,540"/><polygon class="U" points="692,535 710,550 682,588 665,572"/><polygon class="A" points="715,560 733,575 705,608 688,590"/><polygon class="G" points="688,600 705,615 660,665 648,650"/>
<polygon fill="#cc3300" points="640,645 655,655 620,703 608,690"/><polygon class="N" points="625,620 635,630 600,680 590,670"/><polygon class="A" points="635,630 645,640 610,690 595,675"/>
<polygon class="U" points="628,555 642,570 615,612 602,600"/><polygon class="F" points="610,550 630,560 590,640 570,630"/>
<polygon class="A" points="360,400 390,440 415,490 395,500 365,460 332,420"/>
<polygon class="G" points="298,510 330,545 300,570 270,535"/><polygon class="N" points="340,472 405,555 393,565 328,485"/><polygon class="G" points="315,490 340,475 390,545 365,565"/><polygon class="A" points="305,500 345,545 335,555 297,510"/>
<polygon class="A" points="325,545 345,555 385,590 360,605 310,570"/>
<polygon class="G" points="365,590 400,600 455,670 430,680"/>
<polygon class="G" points="405,500 425,500 445,545 425,560"/>
<polygon class="A" points="400,500 460,600 475,650 440,650 385,510"/>
<polygon class="N" points="185,570 195,558 283,612 270,625"/><polygon class="G" points="275,625 283,612 330,635 320,650"/><polygon class="A" points="275,628 322,650 305,677 262,655"/><polygon class="A" points="340,628 435,680 430,697 330,645"/>
<polygon fill="#1177dd" points="312,678 365,698 360,712 308,695"/><polygon fill="#d04000" points="308,695 360,712 355,725 305,708"/><polygon class="N" points="365,705 425,725 420,737 365,718"/><polygon class="A" points="368,692 425,715 420,725 365,705"/>
<g class="f" fill="none">
<line x1="470" y1="660" x2="405" y2="565" stroke="#b00" stroke-width="5"/>
<line x1="470" y1="655" x2="440" y2="615" stroke="#d04000" stroke-width="6"/>
<line x1="490" y1="650" x2="465" y2="590" stroke="#c83000" stroke-width="6"/>
<line x1="505" y1="645" x2="495" y2="590" stroke="#c6c6c6" stroke-width="4"/>
<line x1="520" y1="645" x2="520" y2="530" stroke="#c6c6c6" stroke-width="5"/>
<line x1="535" y1="645" x2="540" y2="585" stroke="#b00" stroke-width="8"/>
<line x1="555" y1="650" x2="575" y2="590" stroke="#a00" stroke-width="5"/>
<line x1="548" y1="590" x2="565" y2="530" stroke="#d04000" stroke-width="5"/>
<line x1="575" y1="655" x2="610" y2="585" stroke="#d04000" stroke-width="6"/>
<line x1="590" y1="560" x2="620" y2="490" stroke="#a00" stroke-width="5"/>
<line x1="565" y1="535" x2="600" y2="440" stroke="#c03000" stroke-width="5"/>
<line x1="480" y1="590" x2="475" y2="530" stroke="#b00" stroke-width="7"/>
<line x1="500" y1="590" x2="505" y2="530" stroke="#c01000" stroke-width="6"/>
</g>
</g>

<!-- YELLOW CELL -->
<g transform="translate(850 950) scale(.38265 .33333)">
<polygon fill="#b4b4b4" stroke="#ff0" stroke-width="4" stroke-linejoin="round" points="898,243 1000,300 1100,370 1175,440 1240,510 1295,595 1340,680 1385,770 1420,850 1455,990 1480,1140 1345,1163 1325,1030 1280,900 1230,785 1170,680 1110,590 1040,500 950,435 845,382"/>
<polygon fill="#c8c8c8" points="1120,385 1160,420 1075,530 1040,500"/>
</g>

<!-- radar circles -->
<path d="M1039 1333 Q1050 1313 1071 1314 Q1095 1316 1102 1340 Q1104 1352 1097 1364 L1040 1370 Z" fill="#fafbea"/>
<path d="M1039 1333 Q1050 1313 1071 1314" fill="none" stroke="#555" stroke-width="2"/>
<path d="M1071 1314 Q1095 1316 1102 1340 Q1104 1352 1097 1364" fill="none" stroke="#4a4a4a" stroke-width="4.600"/>
<circle cx="1068" cy="1338" r="7" fill="#666"/>
<path d="M1692 1343 Q1695 1330 1703 1322 Q1715 1315 1727 1315 Q1740 1316 1747 1323 Q1754 1332 1756 1344 L1750 1375 L1693 1375 Z" fill="#fafbea"/>
<path d="M1692 1343 Q1695 1330 1703 1322 Q1715 1315 1727 1315 Q1740 1316 1747 1323 Q1754 1332 1756 1344" fill="none" stroke="#555" stroke-width="2"/>
<path d="M1693 1363 L1690 1340 L1694 1330" fill="none" stroke="#4a4a4a" stroke-width="4.600"/>
<circle cx="1720" cy="1341" r="6.500" fill="#666"/>

<!-- DASHED -->
<polyline points="1364,220 1378,517 1391,1418" fill="none" stroke="#777" stroke-width="3.500" stroke-dasharray="32 16"/>

<!-- MAGENTA -->
<polyline class="m" points="999,451 1158,660 1516,1100 1550,1140 1707,1320 1570,1143 1540,1100 1214,660 1046,415"/>
<polyline class="m" points="1731,399 1685,480 1640,550 1520,740 1374,950 1262,1100 1087,1318 1294,1090 1412,950 1570,740 1640,643 1752,480 1785,432"/>
<line x1="999" y1="451" x2="1046" y2="415" stroke="#f0f" stroke-width="5.500"/>
<line x1="1731" y1="399" x2="1785" y2="432" stroke="#f0f" stroke-width="5.500"/>

<!-- map labels -->
<g font-size="32">
<text x="1003" y="1392" style="fill:#000">cvw</text><text x="1078" y="1392" style="fill:#000">cve</text>
<text x="1659" y="1396" style="fill:#000">fhw</text><text x="1730" y="1396" style="fill:#000">fhe</text>
<text x="1079" y="1420" style="fill:#f0f">b09</text><text x="1665" y="1423" style="fill:#f0f">b14</text>
</g>

<!-- Title -->
<text x="61" y="66" font-size="33">March, 25 2020</text>
<text x="61" y="94" font-size="33">1410:29 UT</text>

<!-- Color bar -->
<text x="76" y="852" font-size="31">Velocity (m/s)</text>
<rect x="151" y="895.500" width="38" height="54" fill="url(#g1)"/>
<rect x="151" y="949.500" width="38" height="54.500" fill="url(#g2)"/>
<rect x="151" y="1004" width="38" height="54" fill="url(#g3)"/>
<rect x="151" y="1058" width="38" height="32.700" fill="url(#g4)"/>
<rect x="151" y="1090.700" width="38" height="43.300" fill="#c8c8c8"/>
<rect x="151" y="1134" width="38" height="32.500" fill="url(#g5)"/>
<rect x="151" y="1166.500" width="38" height="54.100" fill="url(#g6)"/>
<rect x="151" y="1220.600" width="38" height="54.400" fill="url(#g7)"/>
<rect x="151" y="1275" width="38" height="54.500" fill="url(#g8)"/>
<g stroke="#222" stroke-width="1"><line x1="151" y1="949.500" x2="189" y2="949.500"/><line x1="151" y1="1004" x2="189" y2="1004"/><line x1="151" y1="1058" x2="189" y2="1058"/><line x1="151" y1="1112" x2="189" y2="1112"/><line x1="151" y1="1166.500" x2="189" y2="1166.500"/><line x1="151" y1="1220.600" x2="189" y2="1220.600"/><line x1="151" y1="1275" x2="189" y2="1275"/></g>
<rect x="151" y="895.500" width="38" height="434" fill="none" stroke="#111" stroke-width="1"/>
<g font-size="24" text-anchor="end">
<text x="136" y="896">100</text><text x="136" y="950">75</text><text x="136" y="1004">50</text><text x="136" y="1058">25</text><text x="136" y="1113">0</text><text x="136" y="1167">-25</text><text x="136" y="1221">-50</text><text x="136" y="1275">-75</text><text x="136" y="1329">-100</text>
</g>
<g font-size="24"><text x="202" y="916">toward</text><text x="202" y="1091">10</text><text x="202" y="1155">-10</text><text x="202" y="1329">away</text></g>

<!-- Frequency -->
<text x="325" y="985" font-size="33">Frequency</text>
<g font-size="30" text-anchor="middle"><text x="318" y="1017">cvw</text><text x="374" y="1017">cve</text><text x="431" y="1017">fhw</text><text x="488" y="1017">fhe</text></g>
<g fill="none" stroke="#111" stroke-width="1.300">
<rect x="299" y="1030" width="38" height="300"/><rect x="355.500" y="1030" width="38" height="300"/><rect x="412.500" y="1030" width="38" height="300"/><rect x="469" y="1030" width="38" height="300"/>
<path d="M299 1060h38M299 1090h38M299 1120h38M299 1150h38M299 1180h38M299 1210h38M299 1240h38M299 1270h38M299 1300h38"/>
<path d="M355.500 1060h38M355.500 1090h38M355.500 1120h38M355.500 1150h38M355.500 1180h38M355.500 1210h38M355.500 1240h38M355.500 1270h38M355.500 1300h38"/>
<path d="M412.500 1060h38M412.500 1090h38M412.500 1120h38M412.500 1150h38M412.500 1180h38M412.500 1210h38M412.500 1240h38M412.500 1270h38M412.500 1300h38"/>
<path d="M469 1060h38M469 1090h38M469 1120h38M469 1150h38M469 1180h38M469 1210h38M469 1240h38M469 1270h38M469 1300h38"/>
</g>
<g fill="#ff4000">
<rect x="299" y="1247" width="38" height="12"/><rect x="293" y="1247" width="49" height="3"/><rect x="293" y="1256" width="49" height="3"/>
<rect x="350" y="1241" width="49" height="3"/><rect x="406" y="1241" width="50" height="3"/>
<rect x="469" y="1184" width="38" height="12"/><rect x="463" y="1184" width="50" height="3"/><rect x="463" y="1193" width="50" height="3"/>
</g>
<g font-size="24" text-anchor="end">
<text x="291" y="1042">18</text><text x="291" y="1072">17</text><text x="291" y="1102">16</text><text x="291" y="1132">15</text><text x="291" y="1162">14</text><text x="291" y="1192">13</text><text x="291" y="1222">12</text><text x="291" y="1252">11</text><text x="291" y="1282">10</text><text x="291" y="1312">9</text><text x="291" y="1341">8</text>
</g>
<g font-size="24" text-anchor="middle">
<text x="528" y="1042">18</text><text x="528" y="1072">17</text><text x="528" y="1102">16</text><text x="528" y="1132">15</text><text x="528" y="1162">14</text><text x="528" y="1192">13</text><text x="528" y="1222">12</text><text x="528" y="1252">11</text><text x="528" y="1282">10</text><text x="528" y="1312">9</text><text x="528" y="1341">8</text>
</g>
</g>
</svg>
</body></html>
